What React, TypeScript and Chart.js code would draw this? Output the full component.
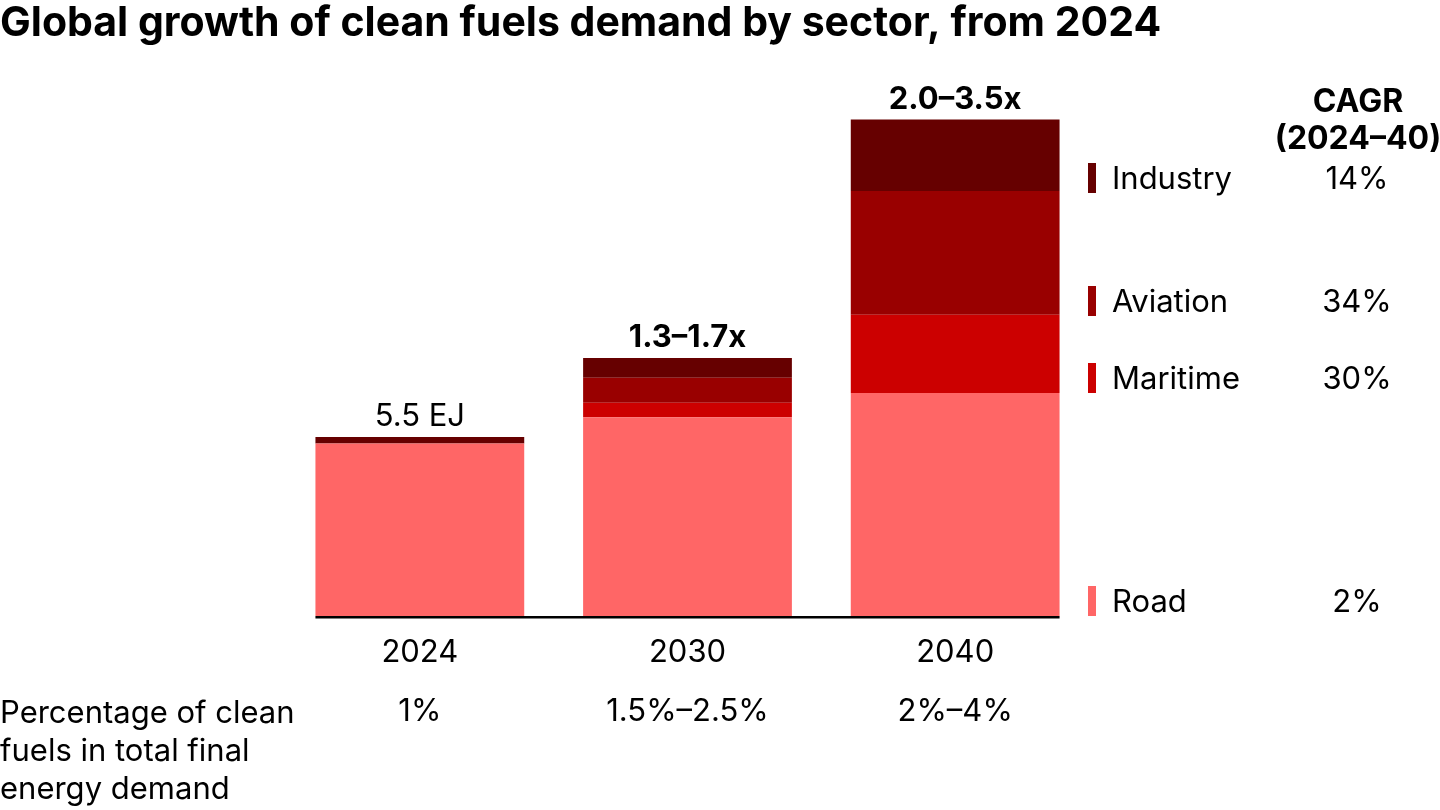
import React, { useEffect, useRef } from "react";
import { Chart, registerables } from "chart.js";

Chart.register(...registerables);

const years = ["2024", "2030", "2040"];
const road = [5.3, 6.1, 6.85];
const maritime = [0, 0.45, 2.4];
const aviation = [0, 0.77, 3.8];
const industry = [0.2, 0.6, 2.2];
const topLabels = ["5.5 EJ", "1.3–1.7x", "2.0–3.5x"];
const topLabelBold = [false, true, true];
const shareLabels = ["1%", "1.5%–2.5%", "2%–4%"];
const sectors = ["Industry", "Aviation", "Maritime", "Road"];
const cagr = ["14%", "34%", "30%", "2%"];
const colors = { Road: "#FF6666", Maritime: "#CC0000", Aviation: "#990000", Industry: "#660000" };

const FONT = "Inter, 'Noto Sans', sans-serif";

export default function App() {
  const ref = useRef<HTMLCanvasElement | null>(null);
  useEffect(() => {
    if (!ref.current) return;
    const overlay = {
      id: "overlay",
      afterDatasetsDraw(chart: any) {
        const ctx = chart.ctx;
        const xs = chart.scales.x;
        const ys = chart.scales.y;
        ctx.save();
        ctx.fillStyle = "#000";
        // title
        ctx.textAlign = "left";
        ctx.textBaseline = "middle";
        ctx.font = `700 41px ${FONT}`;
        ctx.fillText("Global growth of clean fuels demand by sector, from 2024", 0, 24);
        // baseline
        const meta0 = chart.getDatasetMeta(0);
        const b0 = meta0.data[0];
        const b2 = meta0.data[meta0.data.length - 1];
        const y0 = ys.getPixelForValue(0);
        ctx.fillStyle = "#000";
        ctx.fillRect(b0.x - b0.width / 2, y0, b2.x + b2.width / 2 - (b0.x - b0.width / 2), 2.5);
        // top labels
        ctx.textAlign = "center";
        years.forEach((_, i) => {
          const total = road[i] + maritime[i] + aviation[i] + industry[i];
          const x = xs.getPixelForValue(i);
          const yt = ys.getPixelForValue(total);
          ctx.font = `${topLabelBold[i] ? 700 : 400} 31px ${FONT}`;
          ctx.fillText(topLabels[i], x, yt - 20);
          ctx.font = `400 31px ${FONT}`;
          ctx.fillText(years[i], x, 653);
          ctx.fillText(shareLabels[i], x, 712);
        });
        // left text
        ctx.textAlign = "left";
        ctx.font = `400 31px ${FONT}`;
        ["Percentage of clean", "fuels in total final", "energy demand"].forEach((t, i) => {
          ctx.fillText(t, 0, 714 + i * 38);
        });
        // CAGR header
        ctx.textAlign = "center";
        ctx.font = `700 32px ${FONT}`;
        ctx.fillText("CAGR", 1358, 102);
        ctx.fillText("(2024–40)", 1358, 139);
        // legend
        const ly = [178, 301, 378, 601];
        sectors.forEach((s, i) => {
          ctx.fillStyle = (colors as any)[s];
          ctx.fillRect(1088, ly[i] - 15, 8, 30);
          ctx.fillStyle = "#000";
          ctx.textAlign = "left";
          ctx.font = `400 31px ${FONT}`;
          ctx.fillText(s, 1112, ly[i] + 2);
          ctx.textAlign = "center";
          ctx.fillText(cagr[i], 1357, ly[i] + 2);
        });
        ctx.restore();
      },
    };
    const mk = (label: string, data: number[]) => ({
      label,
      data,
      backgroundColor: (colors as any)[label],
      borderWidth: 0,
      barPercentage: 0.78,
      categoryPercentage: 1,
    });
    const chart = new Chart(ref.current, {
      type: "bar",
      data: {
        labels: years,
        datasets: [mk("Road", road), mk("Maritime", maritime), mk("Aviation", aviation), mk("Industry", industry)],
      },
      options: {
        animation: false,
        responsive: false,
        devicePixelRatio: 1,
        layout: { padding: { left: 286, right: 351, top: 95, bottom: 194 } },
        plugins: { legend: { display: false }, tooltip: { enabled: false }, title: { display: false } },
        scales: {
          x: { display: false, stacked: true },
          y: { display: false, stacked: true, min: 0, max: 16 },
        },
      },
      plugins: [overlay],
    });
    return () => chart.destroy();
  }, []);
  return (
    <div style={{ position: "fixed", left: 0, top: 0, width: 1440, height: 810, background: "#fff" }}>
      <canvas ref={ref} width={1440} height={810} style={{ width: 1440, height: 810, display: "block" }} />
    </div>
  );
}
